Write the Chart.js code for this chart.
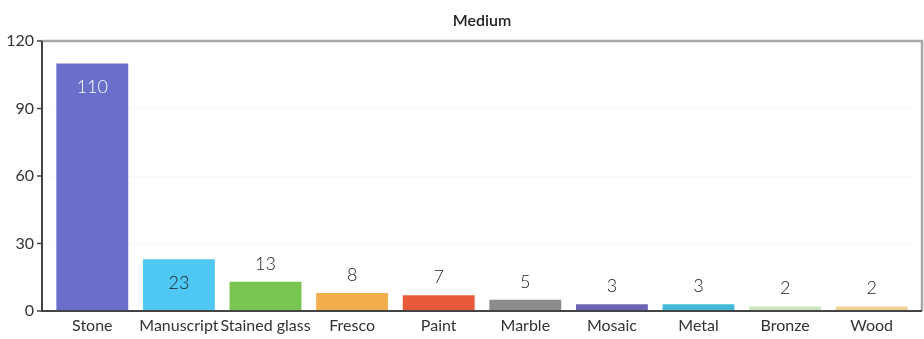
<!DOCTYPE html>
<html>
<head>
<meta charset="utf-8">
<script src="https://cdn.jsdelivr.net/npm/chart.js@4/dist/chart.umd.min.js"></script>
<style>
    html, body { margin: 0; padding: 0; background: #fff; }
    #wrap { width: 924px; height: 339px; }
</style>
</head>
<body>
<div id="wrap"><canvas id="mainChart" width="924" height="339"></canvas></div>
<script>
// Data
const chartTitle = 'Medium';
const mediums = ['Stone', 'Manuscript', 'Stained glass', 'Fresco', 'Paint', 'Marble', 'Mosaic', 'Metal', 'Bronze', 'Wood'];
const counts = [110, 23, 13, 8, 7, 5, 3, 3, 2, 2];
const barColors = ['#6b6fcc', '#4fc8f5', '#78c650', '#f2ae4c', '#e8593a', '#8c8c8c', '#6d64b4', '#45bad6', '#c9e3bf', '#f1d392'];
const labelColors = ['#ffffff', '#222222', '#222222', '#222222', '#222222', '#222222', '#222222', '#222222', '#222222', '#222222'];
const yTicks = [0, 30, 60, 90, 120];

const FONT = "Lato, 'Open Sans', sans-serif";

// Frame drawn a little outside the plot area, plus the title centred over it
const framePlugin = {
    id: 'frame',
    afterDraw(chart) {
        const ctx = chart.ctx;
        const area = chart.chartArea;
        const y = chart.scales.y;
        const left = area.left - 7;
        const right = area.right + 7;
        ctx.save();
        // top and right border (grey)
        ctx.strokeStyle = '#a6a6a6';
        ctx.lineWidth = 2.5;
        ctx.beginPath();
        ctx.moveTo(left, area.top);
        ctx.lineTo(right, area.top);
        ctx.lineTo(right, area.bottom);
        ctx.stroke();
        // left and bottom axis (dark)
        ctx.strokeStyle = '#444';
        ctx.lineWidth = 2;
        ctx.beginPath();
        ctx.moveTo(left, area.top);
        ctx.lineTo(left, area.bottom);
        ctx.lineTo(right, area.bottom);
        ctx.stroke();
        // tick marks
        ctx.lineWidth = 1.5;
        yTicks.forEach(v => {
            const py = y.getPixelForValue(v);
            ctx.beginPath();
            ctx.moveTo(left - 5, py);
            ctx.lineTo(left, py);
            ctx.stroke();
        });
        // title
        ctx.fillStyle = '#222';
        ctx.font = '600 16px ' + FONT;
        ctx.textAlign = 'center';
        ctx.textBaseline = 'middle';
        ctx.fillText(chartTitle, (left + right) / 2, area.top - 20);
        ctx.restore();
    }
};

// Value labels above / inside the bars
const valueLabelPlugin = {
    id: 'valueLabels',
    afterDatasetsDraw(chart) {
        const ctx = chart.ctx;
        const meta = chart.getDatasetMeta(0);
        ctx.save();
        ctx.font = '300 18px ' + FONT;
        ctx.textAlign = 'center';
        ctx.textBaseline = 'middle';
        meta.data.forEach((bar, i) => {
            const v = counts[i];
            let py;
            if (v > 20) {
                py = bar.y + 24;
            } else {
                py = bar.y - 18;
            }
            ctx.fillStyle = labelColors[i];
            ctx.fillText(String(v), bar.x, py);
        });
        ctx.restore();
    }
};

function createChart() {
    const ctx = document.getElementById('mainChart').getContext('2d');
    new Chart(ctx, {
        type: 'bar',
        data: {
            labels: mediums,
            datasets: [{
                data: counts,
                backgroundColor: barColors,
                borderWidth: 0,
                barPercentage: 0.83,
                categoryPercentage: 1.0
            }]
        },
        options: {
            responsive: false,
            animation: false,
            layout: { padding: { left: 4, right: 9, top: 41, bottom: 4 } },
            plugins: {
                legend: { display: false },
                tooltip: { enabled: false },
                title: { display: false }
            },
            scales: {
                x: {
                    grid: { display: false, drawTicks: false },
                    border: { display: false },
                    afterFit(scale) {
                        scale.height = 24;
                    },
                    ticks: {
                        color: '#333',
                        font: { family: FONT, size: 16 },
                        padding: 5,
                        maxRotation: 0,
                        autoSkip: false
                    }
                },
                y: {
                    min: 0,
                    max: 120,
                    afterBuildTicks(scale) {
                        scale.ticks = yTicks.map(v => ({ value: v }));
                    },
                    afterFit(scale) {
                        scale.width = 45;
                    },
                    grid: { color: 'rgba(0,0,0,0.025)', drawTicks: false },
                    border: { display: false },
                    ticks: {
                        color: '#333',
                        font: { family: FONT, size: 16 },
                        padding: 15
                    }
                }
            }
        },
        plugins: [framePlugin, valueLabelPlugin]
    });
}

document.addEventListener('DOMContentLoaded', createChart);
</script>
</body>
</html>
